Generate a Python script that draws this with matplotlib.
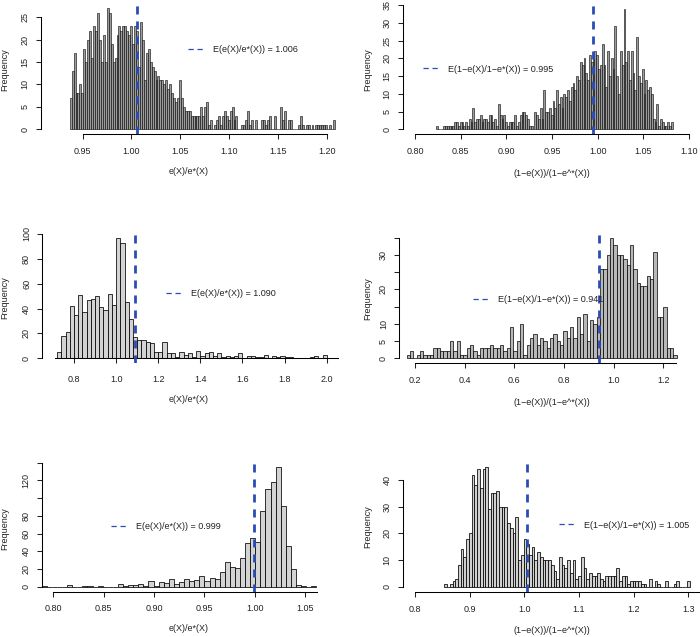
import numpy as np
import matplotlib
matplotlib.use("Agg")
import matplotlib.pyplot as plt
from matplotlib.lines import Line2D

plt.rcParams['font.family'] = ['Liberation Sans', 'DejaVu Sans']

# ---------------- data ----------------
p1_range = (0.9367, 1.2085)
p1_counts = [7,13,17,8,8,10,8,18,15,20, 22,16,23,22,26,20,15,21,15,27,
             26,19,15,16,21,23,22,23,23,22, 21,23,19,23,22,14,24,20,11,17,
             18,15,14,13,11,12,11,11,10,11, 9,10,8,7,6,7,11,7,5,4,
             4,4,3,3,3,3,3,5,3,5, 6,1,2,0,1,2,3,1,3,4,
             3,2,4,5,2,3,0,0,1,1, 2,4,1,2,0,2,0,0,2,2,
             1,2,3,0,0,3,0,0,5,2, 4,0,2,2,0,0,0,1,3,1,
             0,1,1,0,1,0,1,1,1,1, 1,1,0,1,0,2]
p1_mean = 1.006

p2_range = (0.823, 1.0823)
p2_counts = [1,0,0,0,1,1,1,1,1,1, 2,2,1,2,2,1,2,1,3,2,
             6,2,3,3,4,2,3,3,2,4, 4,2,3,1,7,4,3,4,2,1,
             2,2,2,4,1,2,4,5,5,4, 3,1,1,0,5,4,3,6,3,11,
             5,5,6,4,8,6,11,7,9,6, 10,9,11,8,12,13,11,15,14,19,
             18,20,16,14,21,19,20,22,21,17, 18,24,18,12,22,15,20,17,29,15,
             10,22,18,34,19,22,14,22,16,11, 26,15,13,17,10,14,11,12,10,3,
             2,7,1,3,2,1,1,2,1,2]
p2_mean = 0.995

p3_range = (0.72, 2.00)
p3_counts = [5,18,21,42,35,51,37,47,48,50, 41,39,52,43,97,93,45,32,17,15,
             15,13,12,5,5,13,4,4,1,5, 3,4,1,6,2,4,5,2,4,1,
             2,1,2,4,0,2,2,1,1,3, 0,2,1,2,1,1,0,0,0,0,
             1,2,0,3]
p3_mean = 1.090

p4_range = (0.1666, 1.2537)
p4_counts = [1,2,0,1,2,1,1,1,3,3, 2,2,2,5,2,5,1,1,3,4,
             2,1,3,3,3,4,3,3,4,2, 3,9,2,5,10,1,4,6,7,4,
             6,5,3,6,7,5,4,8,6,9, 6,12,7,13,5,11,10,12,26,26,
             30,35,33,30,30,29,27,33,26,22, 21,21,24,23,31,12,12,15,3,3,
             1]
p4_mean = 0.941

p5_range = (0.7885, 1.0613)
p5_counts = [1,0,0,0,0,2,0,0,1,1, 0,1,0,0,0,3,1,2,2,3,
             1,6,1,5,4,9,3,5,9,6, 7,12,6,10,9,17,28,22,21,32,
             49,55,50,85,110,118,135,91,46,20, 2,1,0,1]
p5_mean = 0.999

p6_range = (0.8537, 1.3031)
p6_counts = [1,0,1,2,3,8,14,11,18,20, 42,38,44,37,44,45,29,35,35,36,
             30,30,30,24,22,20,26,10,12,18, 16,12,15,10,13,11,10,10,10,8,
             6,3,11,8,7,10,5,10,3,4, 11,7,3,5,4,4,5,3,2,4,
             4,4,4,7,2,4,4,1,2,2, 2,2,1,1,0,3,0,2,1,0,
             0,2,0,0,1,2,0,0,0,2]
p6_mean = 1.005

xlab_left = "e(X)/e*(X)"
xlab_right = "(1\u2212e(X))/(1\u2212e^*(X))"
leg_left = "E(e(X)/e*(X)) = {:.3f}"
leg_right = "E(1\u2212e(X)/1\u2212e*(X)) = {:.3f}"

p1_xticks = [0.95, 1.00, 1.05, 1.10, 1.15, 1.20]
p2_xticks = [0.80, 0.85, 0.90, 0.95, 1.00, 1.05, 1.10]
p3_xticks = [0.8, 1.0, 1.2, 1.4, 1.6, 1.8, 2.0]
p4_xticks = [0.2, 0.4, 0.6, 0.8, 1.0, 1.2]
p5_xticks = [0.80, 0.85, 0.90, 0.95, 1.00, 1.05]
p6_xticks = [0.8, 0.9, 1.0, 1.1, 1.2, 1.3]

p1_yticks = [0, 5, 10, 15, 20, 25]
p2_yticks = [0, 5, 10, 15, 20, 25, 30, 35]
p3_yticks = [0, 20, 40, 60, 80, 100]
p4_yticks = [0, 5, 10, 15, 20, 25, 30, 35]
p4_ylabels = ["0", "5", "10", "", "20", "", "30", ""]
p5_yticks = [0, 20, 40, 60, 80, 100, 120, 140]
p5_ylabels = ["0", "20", "40", "60", "80", "", "120", ""]
p6_yticks = [0, 10, 20, 30, 40]

# ---------------- layout ----------------
W, H, DPI = 700, 637, 100
FS = 6.5
BLUE = '#2B4DB3'

fig = plt.figure(figsize=(W / DPI, H / DPI), dpi=DPI)

panels = [
    dict(counts=p1_counts, rng=p1_range, mean=p1_mean, box=(41, 3.5, 345, 134),
         xlim=(0.9073, 1.2188), ylim=(-1.05, 28.08), xticks=p1_xticks, xfmt="{:.2f}",
         yticks=p1_yticks, ylabels=None, xb=(0.95, 1.20), yb=(0, 25), xspine=None, xpad=5.5,
         xlab=xlab_left, leg=leg_left, leghx=188, leghy=50, xlabxy=(189, 171), ylabxy=(5, 70),
         face='#9c9c9c', elw=0.4),
    dict(counts=p2_counts, rng=p2_range, mean=p2_mean, box=(402.7, 4, 695, 134.3),
         xlim=(0.7865, 1.1067), ylim=(-1.41, 35.3), xticks=p2_xticks, xfmt="{:.2f}",
         yticks=p2_yticks, ylabels=None, xb=(0.80, 1.10), yb=(0, 35), xspine=None, xpad=5.5,
         xlab=xlab_right, leg=leg_right, leghx=422.7, leghy=69, xlabxy=(551.7, 173), ylabxy=(367.3, 70),
         face='#9c9c9c', elw=0.4),
    dict(counts=p3_counts, rng=p3_range, mean=p3_mean, box=(42.3, 234, 345, 363),
         xlim=(0.6495, 2.0868), ylim=(-3.8, 100), xticks=p3_xticks, xfmt="{:.1f}",
         yticks=p3_yticks, ylabels=None, xb=(0.71, 2.054), yb=(0, 100), xspine=0, xpad=8.5,
         xlab=xlab_left, leg=leg_left, leghx=165.7, leghy=293.3, xlabxy=(189, 399.3), ylabxy=(5, 298),
         face='#d3d3d3', elw=0.55),
    dict(counts=p4_counts, rng=p4_range, mean=p4_mean, box=(399.3, 232.7, 695, 363.3),
         xlim=(0.1368, 1.3277), ylim=(-1.45, 36.5), xticks=p4_xticks, xfmt="{:.1f}",
         yticks=p4_yticks, ylabels=p4_ylabels, xb=(0.2, 1.25), yb=(0, 35), xspine=None, xpad=5.5,
         xlab=xlab_right, leg=leg_right, leghx=472.7, leghy=300, xlabxy=(551.7, 402.7), ylabxy=(367.3, 298.3),
         face='#b8b8b8', elw=0.5),
    dict(counts=p5_counts, rng=p5_range, mean=p5_mean, box=(41.7, 462.5, 345, 591.7),
         xlim=(0.7885, 1.0898), ylim=(-5.64, 140.1), xticks=p5_xticks, xfmt="{:.2f}",
         yticks=p5_yticks, ylabels=p5_ylabels, xb=(0.80, 1.062), yb=(0, 140), xspine=None, xpad=5.5,
         xlab=xlab_left, leg=leg_left, leghx=111, leghy=526.7, xlabxy=(189, 628.3), ylabxy=(5, 528.3),
         face='#d3d3d3', elw=0.55),
    dict(counts=p6_counts, rng=p6_range, mean=p6_mean, box=(402.7, 461.7, 700, 592.3),
         xlim=(0.7775, 1.3213), ylim=(-2.1, 46.9), xticks=p6_xticks, xfmt="{:.1f}",
         yticks=p6_yticks, ylabels=None, xb=(0.8, 1.33), yb=(0, 40), xspine=None, xpad=5.5,
         xlab=xlab_right, leg=leg_right, leghx=559.3, leghy=525, xlabxy=(551.7, 630.7), ylabxy=(367.3, 526.7),
         face='#d0d0d0', elw=0.55),
]

for p in panels:
    l, t, r, b = p['box']
    ax = fig.add_axes([l / W, 1 - b / H, (r - l) / W, (b - t) / H])
    ax.patch.set_alpha(0)
    counts = np.asarray(p['counts'], dtype=float)
    edges = np.linspace(p['rng'][0], p['rng'][1], len(counts) + 1)
    ax.bar(edges[:-1], counts, width=np.diff(edges), align='edge',
           color=p['face'], edgecolor='black', linewidth=p['elw'])
    ax.axvline(p['mean'], color=BLUE, lw=2.0, dashes=(2.9, 2.5), zorder=5)
    ax.set_xlim(*p['xlim'])
    ax.set_ylim(*p['ylim'])
    for s in ('top', 'right'):
        ax.spines[s].set_visible(False)
    if p['xspine'] is not None:
        ax.spines['bottom'].set_position(('data', p['xspine']))
    ax.spines['bottom'].set_bounds(*p['xb'])
    ax.spines['left'].set_bounds(*p['yb'])
    for s in ('bottom', 'left'):
        ax.spines[s].set_linewidth(0.75)
    ax.set_xticks(p['xticks'])
    ax.set_xticklabels([p['xfmt'].format(v) for v in p['xticks']])
    ax.set_yticks(p['yticks'])
    if p['ylabels'] is not None:
        ax.set_yticklabels(p['ylabels'])
    else:
        ax.set_yticklabels([str(v) for v in p['yticks']])
    ax.tick_params(direction='out', length=3.6, width=0.75, labelsize=FS, colors='#222222')
    ax.tick_params(axis='x', pad=p['xpad'])
    ax.tick_params(axis='y', labelrotation=90, pad=4.5)
    for lab in ax.get_yticklabels():
        lab.set_va('center')
    handle = Line2D([], [], color=BLUE, lw=0.9, dashes=(4.2, 3.0))
    leg = ax.legend(handles=[handle], labels=[p['leg'].format(p['mean'])], loc='center left',
                    bbox_to_anchor=(p['leghx'] / W, 1 - p['leghy'] / H), bbox_transform=fig.transFigure,
                    frameon=False, fontsize=FS, handlelength=1.95, handletextpad=0.8,
                    borderpad=0, borderaxespad=0)
    for txt in leg.get_texts():
        txt.set_color('#222222')
    fig.text(p['xlabxy'][0] / W, 1 - p['xlabxy'][1] / H, p['xlab'], ha='center', va='center',
             fontsize=FS, color='#222222')
    fig.text(p['ylabxy'][0] / W, 1 - p['ylabxy'][1] / H, 'Frequency', ha='center', va='center',
             rotation=90, fontsize=FS, color='#222222')

fig.savefig('out.png', dpi=DPI)
